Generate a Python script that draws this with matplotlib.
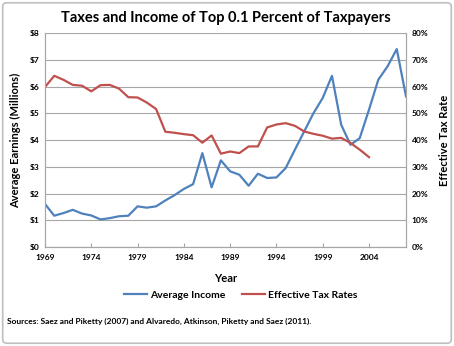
import matplotlib.pyplot as plt
from matplotlib.patches import FancyBboxPatch

years = list(range(1969, 2009))
avg_income = [1.61, 1.17, 1.27, 1.39, 1.25, 1.18, 1.03, 1.08, 1.15, 1.17,
              1.52, 1.47, 1.52, 1.74, 1.94, 2.17, 2.35, 3.51, 2.23, 3.24,
              2.83, 2.70, 2.29, 2.74, 2.58, 2.60, 2.95, 3.64, 4.32, 5.00,
              5.57, 6.40, 4.57, 3.82, 4.07, 5.13, 6.25, 6.75, 7.40, 5.63]
tax_years = list(range(1969, 2005))
tax_rate = [59.8, 64.0, 62.5, 60.6, 60.3, 58.2, 60.5, 60.6, 59.2, 56.0,
            55.9, 54.0, 51.6, 43.1, 42.7, 42.2, 41.8, 39.0, 41.7, 34.9,
            35.7, 35.1, 37.6, 37.6, 44.7, 45.8, 46.3, 45.3, 43.2, 42.3,
            41.6, 40.5, 40.8, 38.9, 36.4, 33.6]
tick_years = [1969, 1974, 1979, 1984, 1989, 1994, 1999, 2004]

BLUE = "#4F81BD"
RED = "#C0504D"
plt.rcParams["font.family"] = ["Lato", "DejaVu Sans"]

fig = plt.figure(figsize=(4.54, 3.46), dpi=100)
fig.patch.set_facecolor("white")
fig.patches.append(FancyBboxPatch((0.006, 0.008), 0.988, 0.984,
                                  boxstyle="round,pad=0,rounding_size=0.01",
                                  transform=fig.transFigure, fill=False,
                                  edgecolor="#BFBFBF", linewidth=1.2))

ax = fig.add_axes([0.0991, 0.2861, 0.7952, 0.6185])
ax2 = ax.twinx()

ax.plot(years, avg_income, color=BLUE, linewidth=1.6, label="Average Income")
ax2.plot(tax_years, tax_rate, color=RED, linewidth=1.6, label="Effective Tax Rates")

ax.set_xlim(1969, 2008)
ax.set_ylim(0, 8)
ax2.set_ylim(0, 80)
ax.set_yticks(range(0, 9))
ax.set_yticklabels([f"${v}" for v in range(0, 9)])
ax2.set_yticks(range(0, 81, 10))
ax2.set_yticklabels([f"{v}%" for v in range(0, 81, 10)])
ax.set_xticks(tick_years)
ax.set_xticklabels([str(y) for y in tick_years])

ax.grid(True, axis="y", color="#A6A6A6", linewidth=0.8)
ax.set_axisbelow(True)
for a in (ax, ax2):
    a.spines["top"].set_visible(False)
    for s in ("left", "right", "bottom"):
        a.spines[s].set_color("#A6A6A6")
        a.spines[s].set_linewidth(0.8)
    a.tick_params(axis="both", length=0, labelsize=6, pad=4)
    for lbl in a.get_yticklabels() + a.get_xticklabels():
        lbl.set_fontweight("bold")
ax.tick_params(axis="x", direction="in", length=3, color="#A6A6A6", pad=5)

ax.set_ylabel("Average Earnings (Millions)", fontsize=8, fontweight="bold", labelpad=6)
ax2.set_ylabel("Effective Tax Rate", fontsize=8, fontweight="bold", labelpad=8,
               rotation=90)
ax.set_xlabel("Year", fontsize=8, fontweight="bold", labelpad=9)

fig.text(0.498, 0.948, "Taxes and Income of Top 0.1 Percent of Taxpayers",
         ha="center", va="center", fontsize=10.5, fontweight="bold")

h1, l1 = ax.get_legend_handles_labels()
h2, l2 = ax2.get_legend_handles_labels()
fig.legend(h1 + h2, l1 + l2, loc="center", bbox_to_anchor=(0.53, 0.147),
           ncol=2, frameon=False, handlelength=2.2, handletextpad=0.3,
           columnspacing=1.6, prop={"size": 7.5, "weight": "bold"})

fig.text(0.016, 0.072,
         "Sources: Saez and Piketty (2007) and Alvaredo, Atkinson, Piketty and Saez (2011).",
         ha="left", va="center", fontsize=6, fontweight="bold")

fig.savefig("out.png", dpi=100)
